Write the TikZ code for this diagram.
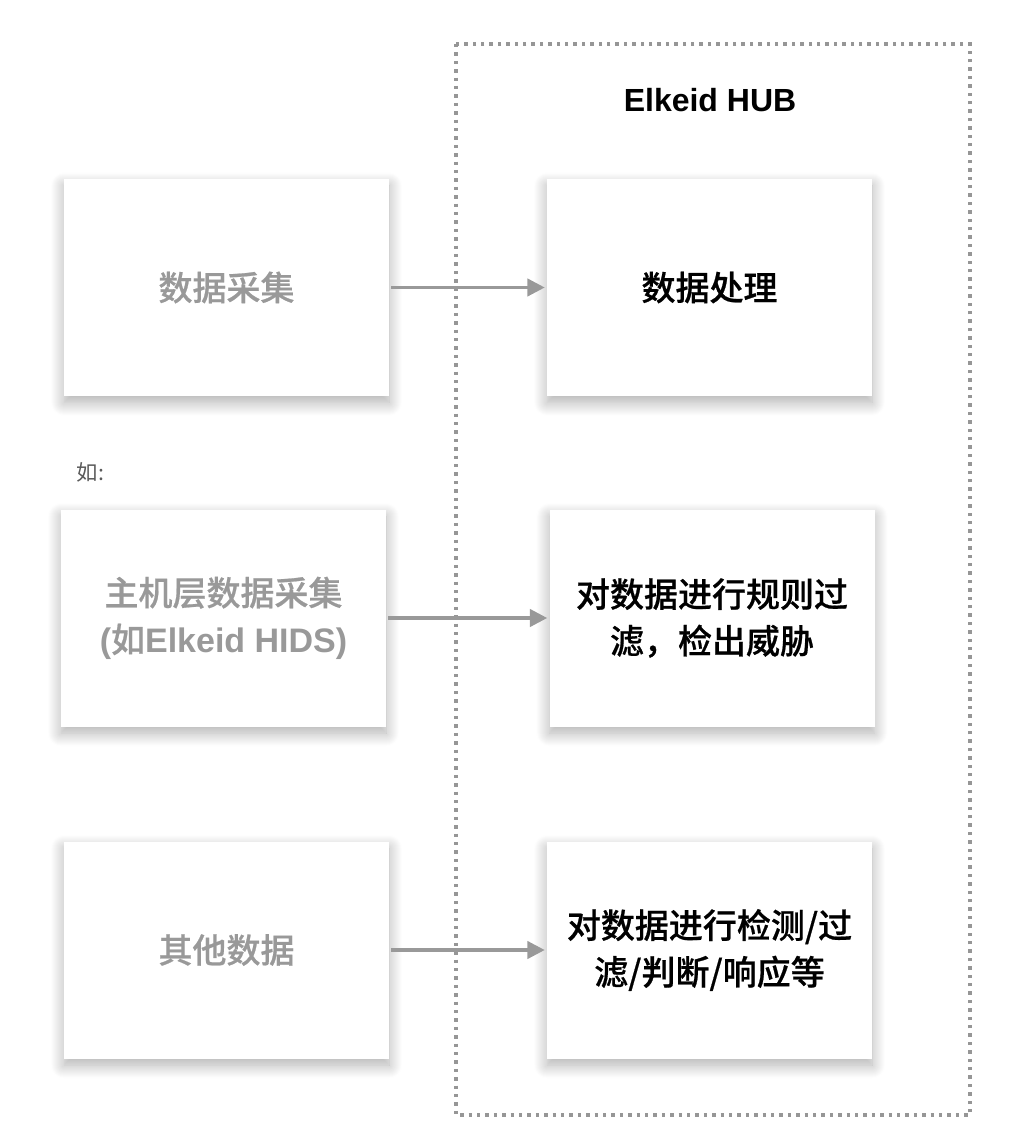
\documentclass[tikz,border=0pt]{standalone}
\usepackage{fontspec}
\setmainfont{Liberation Sans}
\newfontfamily\cjk{Noto Sans CJK SC}[BoldFont={Noto Sans CJK SC Medium},BoldFeatures={FakeBold=0.6}]
\usetikzlibrary{arrows.meta,shadows.blur}
\definecolor{boxgray}{RGB}{153,153,153}
\definecolor{notegray}{RGB}{90,90,90}
\definecolor{framegray}{RGB}{150,150,150}
\newcommand{\latin}[1]{{\rmfamily\bfseries #1}}
\tikzset{
  srcbox/.style={fill=white,minimum width=243.75pt,minimum height=162.75pt,align=center,text=boxgray,
    font=\cjk\bfseries\fontsize{25.5}{35}\selectfont,
    blur shadow={shadow xshift=0pt,shadow yshift=-5pt,shadow blur radius=10pt,shadow blur steps=14,shadow opacity=32}},
  hubbox/.style={srcbox,text=black},
  flow/.style={draw=boxgray,line width=2.4pt,shorten <=1.5pt,shorten >=1.5pt,-{Triangle[length=13pt,width=13pt]}},
  hubframe/.style={draw=framegray,line width=2.5pt,dash pattern=on 2.6pt off 3.7pt},
}
\begin{document}
\begin{tikzpicture}[x=0.75pt,y=0.75pt,yscale=-1]
\useasboundingbox (0,0) rectangle (1024,1126);

%Frame of the hub
\draw [hubframe] (456,44) rectangle (970,1115);
\node (hubtitle) at (710,100) {\fontsize{24}{28}\selectfont\bfseries Elkeid HUB};

%Sources
\node [srcbox] (collect) at (226.5,287.5) {数据采集};
\node [srcbox] (hostcollect) at (223.5,618) {主机层数据采集\\\latin{(}如\latin{Elkeid HIDS)}};
\node [srcbox] (otherdata) at (226.5,950) {其他数据};
\node [anchor=west,text=notegray,font=\cjk\fontsize{16}{20}\selectfont] (example) at (72,472) {如:};

%Hub boxes
\node [hubbox] (process) at (709.5,287.5) {数据处理};
\node [hubbox] (rulefilter) at (712,618) {对数据进行规则过\\滤，检出威胁};
\node [hubbox] (respond) at (709.5,950) {对数据进行检测/过\\滤/判断/响应等};

%Arrows
\draw [flow] (collect) -- (process);
\draw [flow] (hostcollect) -- (rulefilter);
\draw [flow] (otherdata) -- (respond);

\end{tikzpicture}
\end{document}
